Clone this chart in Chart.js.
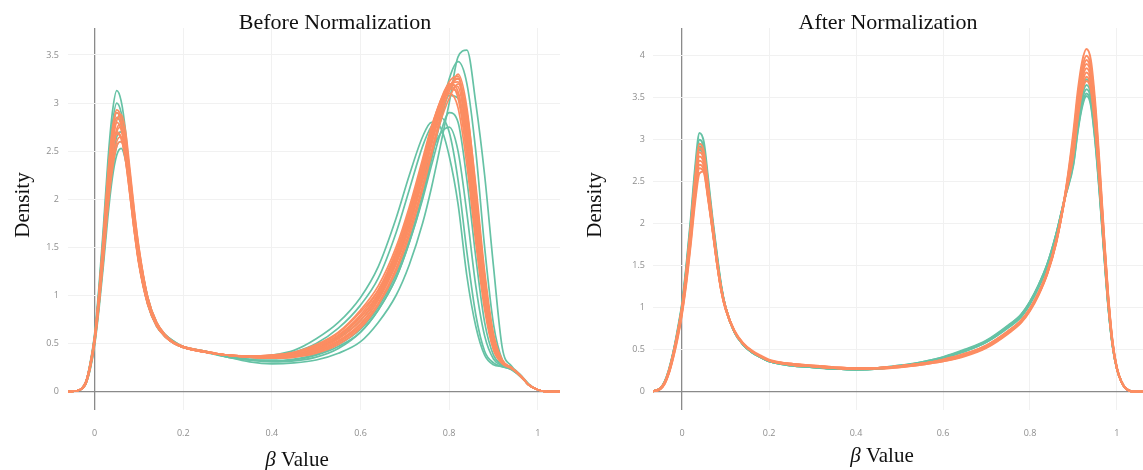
<!DOCTYPE html>
<html><head><meta charset="utf-8">
<script src="https://cdn.jsdelivr.net/npm/chart.js@4.4.1/dist/chart.umd.min.js"></script>
<style>
html,body{margin:0;padding:0;background:#fff;}
#wrap{position:relative;width:1143px;height:470px;overflow:hidden;background:#fff;}
.box{position:absolute;top:0;height:470px;}
canvas{display:block;}
</style></head><body>
<div id="wrap">
<div class="box" style="left:0;width:572px"><canvas id="c1" width="572" height="470" style="width:572px;height:470px"></canvas></div>
<div class="box" style="left:572px;width:571px"><canvas id="c2" width="571" height="470" style="width:571px;height:470px"></canvas></div>
</div>
<script>
// ---------- tick values / labels ----------
const X_TICKS = [0, 0.2, 0.4, 0.6, 0.8, 1];
const X_TICK_LABELS = ['0', '0.2', '0.4', '0.6', '0.8', '1'];
const Y_TICKS_BEFORE = [0, 0.5, 1, 1.5, 2, 2.5, 3, 3.5];
const Y_TICK_LABELS_BEFORE = ['0', '0.5', '1', '1.5', '2', '2.5', '3', '3.5'];
const Y_TICKS_AFTER = [0, 0.5, 1, 1.5, 2, 2.5, 3, 3.5, 4];
const Y_TICK_LABELS_AFTER = ['0', '0.5', '1', '1.5', '2', '2.5', '3', '3.5', '4'];

// ---------- Before Normalization: beta grid and density curves ----------
const BEFORE_X = [-0.06,-0.04,-0.02,-0.01,0,0.01,0.02,0.03,0.04,0.05,0.06,0.07,0.08,0.09,0.10,0.12,0.14,0.16,0.18,0.20,
  0.25,0.30,0.35,0.40,0.45,0.50,0.55,0.60,
  0.64,0.68,0.71,0.74,0.76,0.78,0.80,0.82,0.84,0.86,0.88,0.90,0.92,0.94,0.96,0.98,1.00,1.02,1.05];

const BEFORE_TEAL = [
  [0,0.01,0.08,0.23,0.48,0.86,1.32,1.82,2.22,2.46,2.53,2.4,2.1,1.76,1.45,0.98,0.72,0.59,0.52,0.47,
   0.42,0.36,0.31,0.29,0.3,0.33,0.4,0.52,
   0.72,1.0,1.32,1.75,2.12,2.55,3.0,3.48,3.55,3.0,2.25,1.3,0.45,0.27,0.18,0.08,0.02,0,0],
  [0,0.01,0.1,0.3,0.6,1.1,1.72,2.4,2.9,3.13,3.02,2.7,2.2,1.75,1.38,0.92,0.69,0.57,0.5,0.46,
   0.42,0.37,0.33,0.31,0.32,0.36,0.45,0.62,
   0.85,1.18,1.55,2.02,2.42,2.85,3.25,3.43,3.2,2.5,1.5,0.7,0.33,0.25,0.17,0.07,0.02,0,0],
  [0,0.01,0.1,0.29,0.58,1.06,1.66,2.3,2.78,3.0,2.9,2.6,2.15,1.72,1.36,0.91,0.68,0.57,0.5,0.46,
   0.41,0.37,0.36,0.38,0.43,0.55,0.72,0.98,
   1.3,1.8,2.25,2.65,2.8,2.75,2.45,1.95,1.2,0.68,0.38,0.28,0.26,0.23,0.16,0.07,0.02,0,0],
  [0,0.01,0.1,0.28,0.56,1.02,1.58,2.2,2.65,2.85,2.77,2.5,2.1,1.7,1.35,0.92,0.69,0.57,0.5,0.46,
   0.41,0.37,0.36,0.37,0.41,0.5,0.66,0.9,
   1.18,1.65,2.1,2.55,2.76,2.85,2.7,2.2,1.45,0.8,0.42,0.3,0.26,0.23,0.16,0.07,0.02,0,0],
  [0,0.01,0.08,0.25,0.52,0.93,1.43,1.97,2.4,2.65,2.7,2.54,2.2,1.8,1.46,0.97,0.71,0.59,0.52,0.47,
   0.41,0.36,0.34,0.34,0.37,0.44,0.56,0.74,
   0.98,1.35,1.75,2.2,2.48,2.68,2.75,2.5,1.85,1.1,0.58,0.34,0.27,0.24,0.17,0.07,0.02,0,0],
  [0,0.01,0.08,0.24,0.5,0.9,1.38,1.9,2.3,2.55,2.6,2.45,2.12,1.75,1.42,0.95,0.7,0.58,0.51,0.47,
   0.42,0.36,0.33,0.32,0.34,0.39,0.49,0.65,
   0.88,1.22,1.58,2.05,2.42,2.8,3.08,3.05,2.55,1.8,1.0,0.5,0.3,0.25,0.17,0.07,0.02,0,0],
  [0,0.01,0.1,0.28,0.56,1.03,1.6,2.23,2.7,2.9,2.81,2.52,2.1,1.69,1.34,0.91,0.68,0.57,0.5,0.46,
   0.42,0.37,0.33,0.32,0.33,0.38,0.47,0.62,
   0.85,1.18,1.55,2.0,2.35,2.68,2.9,2.8,2.2,1.4,0.72,0.38,0.28,0.24,0.17,0.07,0.02,0,0]
];

const BEFORE_ORANGE = [
  [0,0.01,0.1,0.29,0.57,1.04,1.63,2.26,2.73,2.93,2.85,2.56,2.13,1.71,1.36,0.92,0.69,0.57,0.5,0.46,
   0.41,0.38,0.36,0.36,0.38,0.44,0.55,0.74,
   1.0,1.38,1.78,2.28,2.64,2.98,3.22,3.28,2.75,1.85,1.05,0.52,0.31,0.25,0.17,0.07,0.02,0,0],
  [0,0.01,0.1,0.28,0.57,1.03,1.61,2.24,2.7,2.9,2.82,2.54,2.12,1.7,1.35,0.92,0.69,0.57,0.5,0.46,
   0.41,0.38,0.37,0.37,0.4,0.47,0.59,0.8,
   1.05,1.45,1.86,2.36,2.72,3.02,3.2,3.12,2.5,1.65,0.92,0.46,0.3,0.25,0.17,0.07,0.02,0,0],
  [0,0.01,0.1,0.28,0.56,1.01,1.58,2.2,2.65,2.85,2.78,2.5,2.1,1.7,1.35,0.92,0.69,0.57,0.5,0.46,
   0.41,0.38,0.36,0.35,0.37,0.42,0.52,0.7,
   0.95,1.32,1.7,2.2,2.56,2.9,3.15,3.25,2.85,2.0,1.15,0.56,0.32,0.25,0.17,0.07,0.02,0,0],
  [0,0.01,0.1,0.28,0.55,1.0,1.55,2.15,2.6,2.8,2.72,2.45,2.05,1.65,1.32,0.9,0.68,0.57,0.5,0.46,
   0.41,0.38,0.37,0.38,0.41,0.49,0.62,0.85,
   1.1,1.5,1.92,2.42,2.76,3.0,3.1,2.95,2.35,1.55,0.85,0.43,0.29,0.24,0.17,0.07,0.02,0,0],
  [0,0.01,0.09,0.26,0.53,0.95,1.46,2.01,2.44,2.7,2.75,2.58,2.22,1.82,1.47,0.97,0.71,0.58,0.51,0.47,
   0.42,0.38,0.36,0.35,0.36,0.41,0.51,0.68,
   0.92,1.28,1.66,2.14,2.5,2.85,3.12,3.3,2.95,2.1,1.2,0.58,0.32,0.25,0.17,0.07,0.02,0,0],
  [0,0.01,0.09,0.27,0.54,0.97,1.5,2.08,2.52,2.7,2.64,2.4,2.03,1.65,1.33,0.91,0.69,0.57,0.5,0.46,
   0.41,0.38,0.37,0.37,0.39,0.46,0.58,0.78,
   1.02,1.42,1.82,2.32,2.68,2.97,3.15,3.1,2.6,1.75,0.98,0.48,0.3,0.25,0.17,0.07,0.02,0,0],
  [0,0.01,0.08,0.25,0.51,0.92,1.41,1.94,2.35,2.6,2.65,2.5,2.16,1.78,1.44,0.96,0.71,0.58,0.51,0.47,
   0.42,0.38,0.36,0.35,0.36,0.4,0.49,0.66,
   0.9,1.25,1.62,2.1,2.46,2.8,3.05,3.2,2.9,2.15,1.25,0.6,0.33,0.25,0.17,0.07,0.02,0,0],
  [0,0.01,0.08,0.24,0.5,0.9,1.38,1.9,2.3,2.55,2.6,2.46,2.13,1.76,1.43,0.96,0.7,0.58,0.51,0.47,
   0.41,0.38,0.37,0.36,0.38,0.44,0.55,0.74,
   0.98,1.36,1.76,2.26,2.62,2.94,3.18,3.22,2.7,1.9,1.08,0.52,0.31,0.25,0.17,0.07,0.02,0,0],
  [0,0.01,0.09,0.27,0.55,0.99,1.52,2.1,2.55,2.82,2.88,2.7,2.3,1.87,1.5,0.98,0.72,0.59,0.51,0.47,
   0.41,0.38,0.37,0.38,0.41,0.48,0.61,0.83,
   1.06,1.46,1.88,2.38,2.74,3.02,3.18,3.05,2.45,1.62,0.9,0.45,0.3,0.25,0.17,0.07,0.02,0,0],
  [0,0.01,0.09,0.26,0.53,0.96,1.48,2.04,2.48,2.73,2.78,2.62,2.26,1.85,1.49,0.98,0.72,0.59,0.51,0.47,
   0.42,0.38,0.36,0.36,0.37,0.43,0.53,0.71,
   0.96,1.34,1.74,2.24,2.6,2.92,3.17,3.26,2.8,1.95,1.12,0.54,0.31,0.25,0.17,0.07,0.02,0,0],
  [0,0.01,0.09,0.26,0.53,0.96,1.48,2.05,2.48,2.68,2.63,2.4,2.04,1.66,1.34,0.92,0.69,0.57,0.5,0.46,
   0.41,0.38,0.37,0.37,0.39,0.45,0.57,0.77,
   1.02,1.41,1.81,2.31,2.67,2.98,3.19,3.17,2.65,1.8,1.0,0.49,0.3,0.25,0.17,0.07,0.02,0,0]
];

// ---------- After Normalization: beta grid and density curves ----------
const AFTER_X = [-0.07,-0.05,-0.04,-0.03,-0.02,-0.01,0,0.01,0.02,0.03,0.04,0.05,0.06,0.07,0.08,0.09,0.10,0.12,0.14,0.16,0.18,0.20,
  0.25,0.30,0.35,0.40,0.45,0.50,0.55,0.60,0.65,0.70,0.75,
  0.78,0.80,0.82,0.84,0.86,0.88,0.90,0.91,0.92,0.93,0.94,0.95,0.96,0.97,0.98,0.99,1.00,1.01,1.02,1.04,1.06];

const AFTER_TEAL = [
  [0,0.04,0.12,0.27,0.48,0.75,1.06,1.52,2.07,2.68,3.08,2.97,2.53,2.06,1.64,1.26,1.0,0.71,0.56,0.47,0.41,0.36,
   0.31,0.29,0.27,0.26,0.27,0.3,0.35,0.41,0.5,0.61,0.79,
   0.92,1.07,1.27,1.52,1.87,2.3,2.7,3.1,3.39,3.52,3.41,2.98,2.36,1.67,1.01,0.54,0.27,0.12,0.04,0,0],
  [0,0.04,0.12,0.26,0.47,0.73,1.04,1.49,2.02,2.61,3.0,2.9,2.48,2.03,1.62,1.25,1.0,0.71,0.56,0.47,0.41,0.36,
   0.31,0.29,0.27,0.26,0.27,0.3,0.34,0.4,0.49,0.6,0.78,
   0.91,1.06,1.26,1.51,1.86,2.3,2.72,3.12,3.42,3.55,3.44,3.0,2.38,1.68,1.02,0.54,0.27,0.12,0.04,0,0],
  [0,0.04,0.11,0.26,0.47,0.72,1.03,1.47,1.99,2.57,2.95,2.86,2.45,2.01,1.6,1.24,1.0,0.71,0.56,0.47,0.41,0.36,
   0.32,0.29,0.27,0.27,0.28,0.31,0.35,0.41,0.49,0.6,0.78,
   0.92,1.07,1.27,1.52,1.87,2.31,2.76,3.17,3.47,3.6,3.49,3.05,2.41,1.7,1.03,0.55,0.27,0.12,0.04,0,0],
  [0,0.04,0.11,0.25,0.46,0.72,1.02,1.46,1.97,2.55,2.92,2.83,2.43,2.0,1.59,1.24,1.0,0.71,0.56,0.47,0.41,0.36,
   0.32,0.3,0.28,0.27,0.28,0.31,0.34,0.4,0.48,0.59,0.77,
   0.9,1.05,1.25,1.5,1.85,2.3,2.79,3.21,3.52,3.65,3.54,3.09,2.44,1.72,1.04,0.55,0.27,0.12,0.04,0,0],
  [0,0.04,0.11,0.25,0.46,0.71,1.01,1.44,1.95,2.51,2.88,2.79,2.41,1.98,1.58,1.23,0.99,0.71,0.56,0.47,0.41,0.36,
   0.31,0.29,0.27,0.26,0.27,0.3,0.34,0.4,0.48,0.59,0.76,
   0.89,1.04,1.24,1.49,1.84,2.3,2.82,3.25,3.57,3.72,3.6,3.14,2.48,1.75,1.06,0.56,0.27,0.12,0.04,0,0]
];

const AFTER_ORANGE = [
  [0,0.04,0.11,0.26,0.46,0.72,1.02,1.46,1.98,2.56,2.95,2.86,2.45,2.01,1.58,1.23,1.0,0.72,0.57,0.48,0.42,0.37,
   0.32,0.3,0.28,0.27,0.28,0.3,0.33,0.37,0.44,0.54,0.71,
   0.84,0.98,1.17,1.42,1.78,2.32,3.1,3.58,3.93,4.08,3.95,3.45,2.72,1.9,1.15,0.6,0.28,0.12,0.04,0,0],
  [0,0.04,0.11,0.25,0.46,0.71,1.01,1.44,1.95,2.52,2.9,2.81,2.42,1.99,1.57,1.22,1.0,0.72,0.57,0.48,0.42,0.37,
   0.32,0.3,0.28,0.27,0.28,0.3,0.33,0.38,0.45,0.55,0.72,
   0.85,0.99,1.18,1.43,1.79,2.32,3.04,3.51,3.85,4.0,3.87,3.38,2.67,1.87,1.13,0.59,0.28,0.12,0.04,0,0],
  [0,0.04,0.11,0.25,0.45,0.7,1.0,1.42,1.92,2.48,2.85,2.76,2.38,1.97,1.55,1.22,1.0,0.72,0.57,0.48,0.42,0.37,
   0.33,0.3,0.28,0.27,0.28,0.3,0.33,0.37,0.43,0.53,0.7,
   0.83,0.97,1.16,1.41,1.77,2.31,3.0,3.46,3.8,3.95,3.82,3.34,2.63,1.85,1.12,0.58,0.28,0.12,0.04,0,0],
  [0,0.03,0.1,0.24,0.44,0.69,0.99,1.4,1.89,2.44,2.8,2.72,2.35,1.95,1.54,1.21,0.99,0.72,0.57,0.48,0.42,0.37,
   0.32,0.3,0.28,0.27,0.28,0.29,0.32,0.36,0.43,0.53,0.7,
   0.83,0.97,1.16,1.41,1.77,2.3,2.96,3.42,3.76,3.9,3.78,3.3,2.6,1.83,1.11,0.58,0.28,0.12,0.04,0,0],
  [0,0.03,0.1,0.24,0.44,0.68,0.97,1.38,1.86,2.4,2.75,2.68,2.32,1.93,1.53,1.2,0.98,0.72,0.57,0.48,0.42,0.37,
   0.33,0.31,0.29,0.28,0.28,0.3,0.33,0.37,0.44,0.54,0.71,
   0.84,0.98,1.17,1.42,1.78,2.3,2.93,3.38,3.71,3.85,3.73,3.26,2.57,1.8,1.1,0.57,0.27,0.12,0.04,0,0],
  [0,0.03,0.1,0.23,0.43,0.67,0.96,1.35,1.83,2.36,2.7,2.64,2.3,1.92,1.53,1.2,0.98,0.72,0.57,0.48,0.42,0.37,
   0.32,0.3,0.28,0.27,0.27,0.29,0.32,0.36,0.42,0.52,0.69,
   0.82,0.96,1.15,1.4,1.76,2.29,2.89,3.33,3.66,3.8,3.68,3.22,2.54,1.78,1.08,0.57,0.27,0.12,0.04,0,0],
  [0,0.03,0.1,0.23,0.42,0.66,0.95,1.33,1.8,2.32,2.66,2.61,2.28,1.91,1.53,1.2,0.98,0.72,0.57,0.48,0.42,0.37,
   0.33,0.3,0.28,0.27,0.28,0.3,0.33,0.38,0.45,0.55,0.72,
   0.85,0.99,1.18,1.43,1.79,2.3,2.85,3.29,3.61,3.75,3.63,3.17,2.5,1.76,1.07,0.56,0.27,0.12,0.04,0,0],
  [0,0.03,0.09,0.22,0.41,0.64,0.93,1.3,1.76,2.26,2.6,2.62,2.3,1.93,1.55,1.22,0.99,0.73,0.58,0.49,0.43,0.38,
   0.33,0.31,0.29,0.28,0.28,0.3,0.33,0.37,0.43,0.53,0.7,
   0.84,0.98,1.17,1.42,1.78,2.29,2.82,3.25,3.57,3.7,3.59,3.13,2.47,1.74,1.05,0.56,0.27,0.12,0.04,0,0]
];

// ---------- styling ----------
const TEAL = '#66c2a5';
const ORANGE = '#fc8d62';
const SERIF = '"Liberation Serif", "Times New Roman", "DejaVu Serif", serif';
const TICK_FONT = { family: '"Open Sans", "DejaVu Sans", sans-serif', size: 9 };
const TICK_COLOR = '#8e8e8e';

const titlePlugin = {
  id: 'panelTitles',
  afterDraw(chart, args, o) {
    const ctx = chart.ctx;
    ctx.save();
    ctx.fillStyle = '#111';
    ctx.textBaseline = 'alphabetic';
    ctx.font = '22px ' + SERIF;
    ctx.textAlign = 'center';
    ctx.fillText(o.title, o.titleX, o.titleY);
    ctx.font = 'italic 21px ' + SERIF;
    const wb = ctx.measureText('\u03B2').width;
    ctx.font = '21px ' + SERIF;
    const wv = ctx.measureText(' Value').width;
    const x0 = o.xTitleX - (wb + wv) / 2;
    ctx.textAlign = 'left';
    ctx.font = 'italic 21px ' + SERIF;
    ctx.fillText('\u03B2', x0, o.xTitleY);
    ctx.font = '21px ' + SERIF;
    ctx.fillText(' Value', x0 + wb, o.xTitleY);
    ctx.translate(o.yTitleX, o.yTitleY);
    ctx.rotate(-Math.PI / 2);
    ctx.textAlign = 'center';
    ctx.font = '21px ' + SERIF;
    ctx.fillText('Density', 0, 0);
    ctx.restore();
  }
};

function lineSet(xs, ys, color, lw, order) {
  return {
    data: xs.map((x, i) => ({ x: x, y: ys[i] })),
    borderColor: color,
    backgroundColor: color,
    borderWidth: lw,
    pointRadius: 0,
    fill: false,
    order: order,
    cubicInterpolationMode: 'monotone'
  };
}

function gridColor(c) {
  return (c.tick && c.tick.value === 0) ? '#8a8a8a' : '#f1f1f1';
}
function gridWidth(c) {
  return (c.tick && c.tick.value === 0) ? 1.3 : 1;
}

function makePanel(id, p) {
  const datasets = [];
  // Chart.js paints higher "order" first, so teal (order 2) sits under orange (order 1)
  p.teal.forEach(ys => datasets.push(lineSet(p.xs, ys, TEAL, p.lw, 2)));
  p.orange.forEach(ys => datasets.push(lineSet(p.xs, ys, ORANGE, p.lw, 1)));
  return new Chart(document.getElementById(id), {
    type: 'line',
    data: { datasets: datasets },
    options: {
      responsive: false,
      animation: false,
      events: [],
      layout: { padding: { top: 28, left: 0, right: p.padRight, bottom: 0 } },
      scales: {
        x: {
          type: 'linear', min: p.xMin, max: p.xMax,
          afterFit: s => { s.height = 60; },
          afterBuildTicks: s => { s.ticks = X_TICKS.map(v => ({ value: v })); },
          ticks: { autoSkip: false, maxRotation: 0, padding: 18, font: TICK_FONT, color: TICK_COLOR,
                   callback: (v, i) => X_TICK_LABELS[i] },
          grid: { color: gridColor, lineWidth: gridWidth, drawTicks: false },
          border: { display: false }
        },
        y: {
          type: 'linear', min: p.yMin, max: p.yMax,
          afterFit: s => { s.width = p.yWidth; },
          afterBuildTicks: s => { s.ticks = p.yTicks.map(v => ({ value: v })); },
          ticks: { autoSkip: false, padding: p.yPad, font: TICK_FONT, color: TICK_COLOR,
                   callback: (v, i) => p.yLabels[i] },
          grid: { color: gridColor, lineWidth: gridWidth, drawTicks: false },
          border: { display: false }
        }
      },
      plugins: {
        legend: { display: false },
        tooltip: { enabled: false },
        panelTitles: p.titles
      }
    },
    plugins: [titlePlugin]
  });
}

makePanel('c1', {
  xs: BEFORE_X, teal: BEFORE_TEAL, orange: BEFORE_ORANGE, lw: 1.7,
  xMin: -0.06, xMax: 1.05, yMin: -0.19, yMax: 3.78,
  yTicks: Y_TICKS_BEFORE, yLabels: Y_TICK_LABELS_BEFORE,
  yWidth: 68, yPad: 9, padRight: 12,
  titles: { title: 'Before Normalization', titleX: 335, titleY: 29,
            xTitleX: 297, xTitleY: 466, yTitleX: 29, yTitleY: 205 }
});

makePanel('c2', {
  xs: AFTER_X, teal: AFTER_TEAL, orange: AFTER_ORANGE, lw: 2,
  xMin: -0.067, xMax: 1.06, yMin: -0.22, yMax: 4.33,
  yTicks: Y_TICKS_AFTER, yLabels: Y_TICK_LABELS_AFTER,
  yWidth: 81, yPad: 8, padRight: 0,
  titles: { title: 'After Normalization', titleX: 316, titleY: 29,
            xTitleX: 310, xTitleY: 462, yTitleX: 29, yTitleY: 205 }
});
</script>
</body></html>
